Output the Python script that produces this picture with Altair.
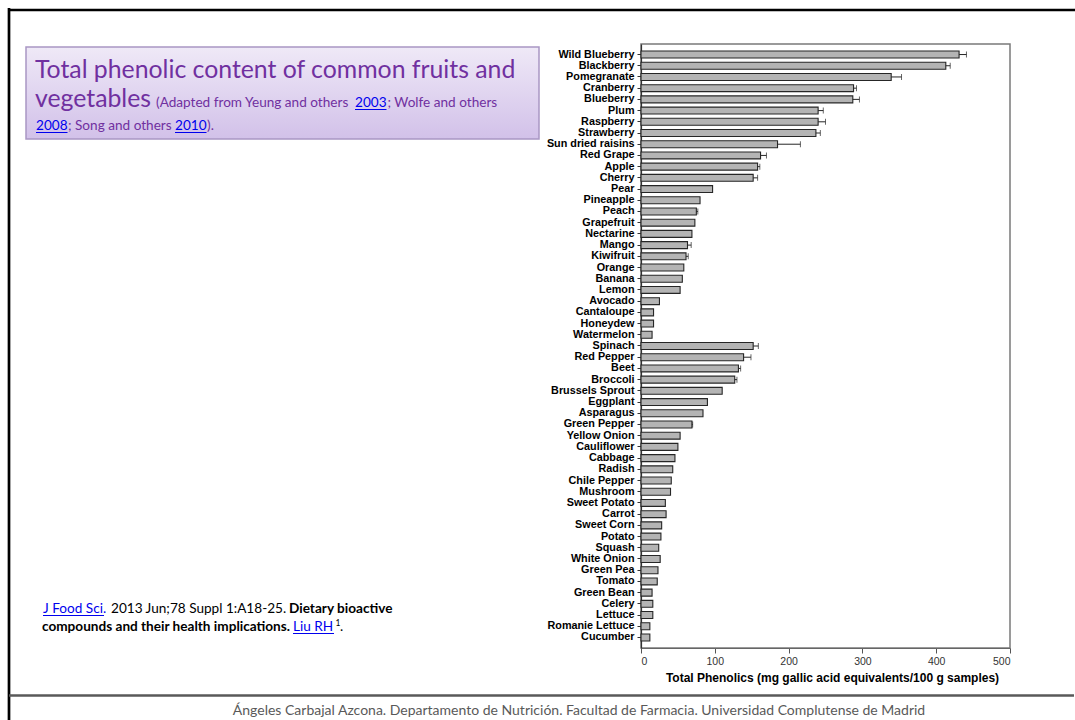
import altair as alt
import pandas as pd

# Total phenolic content (mg gallic acid equivalents / 100 g), top to bottom
items = [
    "Wild Blueberry", "Blackberry", "Pomegranate", "Cranberry", "Blueberry",
    "Plum", "Raspberry", "Strawberry", "Sun dried raisins", "Red Grape",
    "Apple", "Cherry", "Pear", "Pineapple", "Peach", "Grapefruit",
    "Nectarine", "Mango", "Kiwifruit", "Orange", "Banana", "Lemon",
    "Avocado", "Cantaloupe", "Honeydew", "Watermelon",
    "Spinach", "Red Pepper", "Beet", "Broccoli", "Brussels Sprout",
    "Eggplant", "Asparagus", "Green Pepper", "Yellow Onion", "Cauliflower",
    "Cabbage", "Radish", "Chile Pepper", "Mushroom", "Sweet Potato",
    "Carrot", "Sweet Corn", "Potato", "Squash", "White Onion", "Green Pea",
    "Tomato", "Green Bean", "Celery", "Lettuce", "Romanie Lettuce",
    "Cucumber",
]
values = [
    431, 413, 339, 288, 287,
    240, 240, 237, 185, 162,
    158, 152, 97, 80, 75, 73,
    69, 63, 61, 58, 56, 53,
    25, 17, 17, 15,
    152, 139, 132, 127, 110,
    90, 84, 69, 53, 50,
    46, 43, 41, 40, 33,
    34, 28, 27, 24, 26, 23,
    22, 15, 16, 16, 12,
    12,
]
errors = [
    10, 6, 14, 4, 9,
    7, 10, 6, 31, 8,
    3, 6, 0, 0, 2, 0,
    0, 5, 3, 0, 0, 0,
    0, 0, 0, 0,
    7, 10, 3, 3, 0,
    0, 0, 1, 0, 0,
    0, 0, 0, 0, 0,
    0, 0, 0, 0, 0, 0,
    0, 0, 0, 0, 0,
    0,
]
x_ticks = [0, 100, 200, 300, 400, 500]

df = pd.DataFrame({"item": items, "value": values, "err": errors})
df["hi"] = df["value"] + df["err"]
err_df = df[df["err"] > 0]

# page geometry: plot area occupies x 641..1010, y 44..648 of the 1075x720 page
PX, PY = 641, 44
W, H = 1010 - PX, 648 - PY
PAGE_W, PAGE_H = 1075, 720

LABEL_FONT = "Liberation Sans"
SLIDE_FONT = "Lato"
PURPLE = "#7030a0"
LINK = "#0000ee"
SMALL = 13.6

x_enc = alt.X(
    "value:Q",
    scale=alt.Scale(domain=[0, 500], nice=False),
    axis=alt.Axis(
        values=x_ticks, format="d", grid=False,
        title="Total Phenolics (mg gallic acid equivalents/100 g samples)",
        titleFont=LABEL_FONT, titleFontWeight="bold", titleFontSize=12,
        titleColor="#000000", titlePadding=6, titleX=191,
        labelFont=LABEL_FONT, labelFontSize=10.5, labelColor="#333333",
        labelPadding=3, tickSize=5, tickColor="#555555",
        domainColor="#666666", domainWidth=1.2,
    ),
)
y_enc = alt.Y(
    "item:N", sort=items,
    scale=alt.Scale(paddingInner=0.38, paddingOuter=0.63),
    axis=alt.Axis(
        title=None, labelFont=LABEL_FONT, labelFontWeight="bold",
        labelFontSize=10.8, labelColor="#000000", labelPadding=3,
        tickSize=4, tickColor="#333333", domainColor="#333333",
        domainWidth=1.2, labelLimit=200,
    ),
)

bars = alt.Chart(df).mark_bar(
    fill="#b4b4b4", stroke="#262626", strokeWidth=1.1
).encode(x=x_enc, y=y_enc)

err_rule = alt.Chart(err_df).mark_rule(color="#262626", strokeWidth=1).encode(
    x="value:Q", x2="hi:Q", y=alt.Y("item:N", sort=items)
)
err_cap = alt.Chart(err_df).mark_tick(
    color="#262626", size=6, thickness=1
).encode(x="hi:Q", y=alt.Y("item:N", sort=items))

one = alt.Data(values=[{"k": 0}])


def rule(x1, y1, x2, y2, color, width):
    return alt.Chart(one).mark_rule(color=color, strokeWidth=width).encode(
        x=alt.value(x1 - PX), x2=alt.value(x2 - PX),
        y=alt.value(y1 - PY), y2=alt.value(y2 - PY),
    )


def label(x, y, text, size, color="#000000", weight="normal",
          font=SLIDE_FONT, align="left"):
    return alt.Chart(one).mark_text(
        align=align, baseline="alphabetic", font=font, fontSize=size,
        fontWeight=weight, color=color,
    ).encode(x=alt.value(x - PX), y=alt.value(y - PY), text=alt.value(text))


# slide frame
frame = [
    rule(8, 10, PAGE_W, 10, "#000000", 2.5),
    rule(9, 8, 9, PAGE_H, "#000000", 2.7),
    rule(9, 695.5, PAGE_W - 1, 695.5, "#595959", 2.4),
]

# title box
title_box = alt.Chart(one).mark_rect(
    fill=alt.Gradient(
        gradient="linear", x1=0, y1=0, x2=0, y2=1,
        stops=[alt.GradientStop(color="#efe9f7", offset=0),
               alt.GradientStop(color="#d2c1e9", offset=1)],
    ),
    stroke="#a997c4", strokeWidth=1.5,
).encode(
    x=alt.value(26 - PX), x2=alt.value(539 - PX),
    y=alt.value(47 - PY), y2=alt.value(139 - PY),
)

title_text = [
    label(35, 78, "Total phenolic content of common fruits and", 24.8, PURPLE),
    label(35, 107, "vegetables", 24.8, PURPLE),
    label(156, 107, "(Adapted from Yeung and others", SMALL, PURPLE),
    label(355, 107, "2003", SMALL, LINK),
    label(387.5, 107, "; Wolfe and others", SMALL, PURPLE),
    label(36, 130, "2008", SMALL, LINK),
    label(68, 130, "; Song and others", SMALL, PURPLE),
    label(175, 130, "2010", SMALL, LINK),
    label(207, 130, ").", SMALL, PURPLE),
    rule(355, 109.5, 386.5, 109.5, LINK, 1),
    rule(36, 132.5, 67.5, 132.5, LINK, 1),
    rule(175, 132.5, 206.5, 132.5, LINK, 1),
]

citation = [
    label(43, 613, "J Food Sci.", SMALL, LINK),
    label(111, 613, "2013 Jun;78 Suppl 1:A18-25.", SMALL),
    label(289, 613, "Dietary bioactive", SMALL, weight="bold"),
    label(42, 631, "compounds and their health implications.", SMALL,
          weight="bold"),
    label(293, 631, "Liu RH", SMALL, LINK),
    label(335.5, 626, "1", 8.5),
    label(340, 631, ".", SMALL),
    rule(43, 615.5, 104, 615.5, LINK, 1),
    rule(293, 633.5, 334, 633.5, LINK, 1),
]

footer = [
    label(579, 715,
          "Ángeles Carbajal Azcona. Departamento de Nutrición. Facultad de "
          "Farmacia. Universidad Complutense de Madrid",
          14, "#595959", align="center"),
]

chart = alt.layer(
    *frame, title_box, *title_text, *citation, *footer,
    bars, err_rule, err_cap,
).properties(
    width=W, height=H,
    padding={"left": PX, "top": PY, "right": PAGE_W - PX - W,
             "bottom": PAGE_H - PY - H},
    autosize=alt.AutoSizeParams(type="none"),
    background="#ffffff",
).configure_view(stroke="#7a7a7a", strokeWidth=1.5)

chart.save("out.html", embed_options={"renderer": "svg", "actions": False})
